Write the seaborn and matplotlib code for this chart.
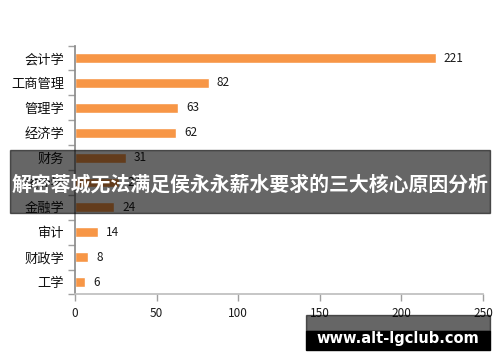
import matplotlib
matplotlib.use("Agg")
import matplotlib.pyplot as plt
import seaborn as sns
import pandas as pd
from matplotlib.patches import Rectangle

sns.set_theme(style="white")
plt.rcParams['font.family'] = ['Noto Sans CJK SC', 'DejaVu Sans']

categories = ["会计学", "工商管理", "管理学", "经济学", "财务", "统计学", "金融学", "审计", "财政学", "工学"]
values = [221, 82, 63, 62, 31, 27, 24, 14, 8, 6]
x_ticks = [0, 50, 100, 150, 200, 250]
title = "解密蓉城无法满足侯永永薪水要求的三大核心原因分析"
watermark = "www.alt-lgclub.com"

df = pd.DataFrame({"cat": categories, "val": values})

fig = plt.figure(figsize=(5.0, 3.62), dpi=100)
ax = fig.add_axes([0.15, 0.1865, 0.816, 0.6875])
sns.barplot(data=df, x="val", y="cat", orient="h", color="#F79646",
            saturation=1, width=0.4, ax=ax)

ax.set_xlim(0, 250)
ax.set_ylim(len(categories) - 0.5, -0.5)
ax.set_xticks(x_ticks)
ax.set_xticklabels([str(t) for t in x_ticks], fontsize=8.5, color="#1a1a1a")
ax.set_xlabel("")
ax.set_ylabel("")
ax.tick_params(axis="y", length=0, labelsize=9.5, labelcolor="#111111", pad=8)
ax.set_yticks(range(len(categories)), minor=False)
ax.set_yticks([i - 0.5 for i in range(len(categories) + 1)], minor=True)
ax.tick_params(axis="y", which="minor", length=5, color="#a0a0a0", width=1, direction="out", left=True)
ax.tick_params(axis="x", which="major", length=5, color="#a0a0a0", width=1, direction="out", bottom=True, labelsize=8.5, pad=4)
for s in ["top", "right"]:
    ax.spines[s].set_visible(False)
ax.spines["left"].set_color("#8c8c8c")
ax.spines["bottom"].set_color("#bfbfbf")

for i, v in enumerate(values):
    ax.text(v + 5, i, str(v), va="center", ha="left", fontsize=8.5, color="#1a1a1a")

# banner overlay
fig.patches.append(Rectangle((10 / 500, 1 - 213 / 362), 480 / 500, 63 / 362,
                             transform=fig.transFigure, color="black", alpha=0.6, zorder=10))
fig.text(0.5, 1 - 184 / 362, title, ha="center", va="center", color="white",
         fontsize=14.3, fontweight="bold", zorder=11)

# watermark
fig.patches.append(Rectangle((306 / 500, 1 - 331 / 362), 184 / 500, 16 / 362,
                             transform=fig.transFigure, color="black", alpha=0.6, zorder=10))
fig.patches.append(Rectangle((306 / 500, 1 - 350 / 362), 184 / 500, 19.5 / 362,
                             transform=fig.transFigure, color="black", zorder=10))
fig.text(398 / 500, 1 - 338 / 362, watermark, ha="center", va="center", color="white",
         fontsize=10.5, fontweight="bold", family=["DejaVu Sans"], zorder=11)

fig.savefig("out.png", dpi=100)
